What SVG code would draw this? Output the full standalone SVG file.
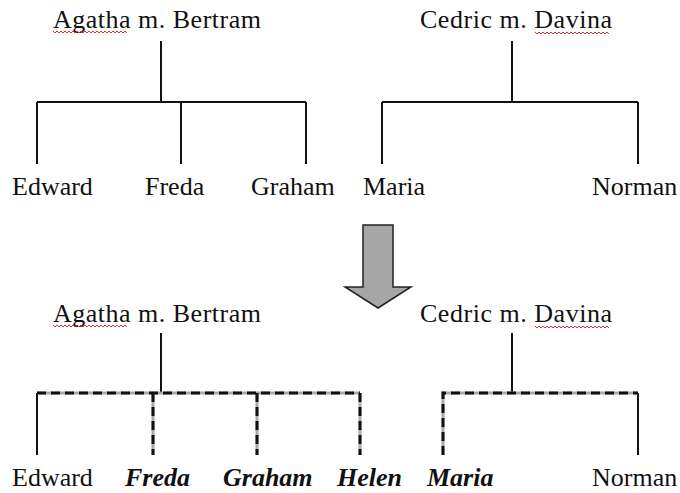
<svg xmlns="http://www.w3.org/2000/svg" width="680" height="493" viewBox="0 0 680 493">
<style>
text{font-family:"Liberation Serif","Times New Roman",serif;font-size:26px;fill:#111}
.bi{font-weight:bold;font-style:italic}
.ln{stroke:#111;stroke-width:2;fill:none}
.dg{stroke:#aaa;stroke-width:3;fill:none}
.dk{stroke:#111;stroke-width:3;fill:none;stroke-dasharray:9 5}
.sq{stroke:#e03030;stroke-width:1;fill:none}
</style>
<rect width="680" height="493" fill="#fff"/>
<g id="connectors">
<path class="ln" d="M161 41V102M37 102H306M37 102V164M181 102V164M306 102V164"/>
<path class="ln" d="M512 41V102M382 102H638M382 102V164M638 102V164"/>
<path class="ln" d="M161 333V393M37 393V455"/>
<path class="dg" d="M37 393H360M153 393V455M257 393V455M360 393V455"/>
<path class="dk" d="M37 393H360"/>
<path class="dk" d="M153 393V455M257 393V455M360 393V455"/>
<path class="ln" d="M512 333V393M638 393V455"/>
<path class="dg" d="M443 455V393H638"/>
<path class="dk" d="M443 455V393H638"/>
</g>
<g id="arrow">
<polygon points="363,225 393,225 393,287 411,287 378,308 345,287 363,287" fill="#a6a6a6" stroke="#222" stroke-width="1.5"/>
</g>
<g id="top-ab"><text x="53" y="28" textLength="208">Agatha m. Bertram</text>
<path class="sq" d="M53 31l2 2 2-2 2 2 2-2 2 2 2-2 2 2 2-2 2 2 2-2 2 2 2-2 2 2 2-2 2 2 2-2 2 2 2-2 2 2 2-2 2 2 2-2 2 2 2-2 2 2 2-2 2 2 2-2 2 2 2-2 2 2 2-2 2 2 2-2 2 2 2-2 2 2"/></g>
<g id="top-cd"><text x="420" y="28" textLength="192">Cedric m. Davina</text>
<path class="sq" d="M535 32l2 2 2-2 2 2 2-2 2 2 2-2 2 2 2-2 2 2 2-2 2 2 2-2 2 2 2-2 2 2 2-2 2 2 2-2 2 2 2-2 2 2 2-2 2 2 2-2 2 2 2-2 2 2 2-2 2 2 2-2 2 2 2-2 2 2 2-2 2 2 2-2 2 2"/></g>
<g id="top-edward"><text x="12" y="195">Edward</text></g>
<g id="top-freda"><text x="145" y="195">Freda</text></g>
<g id="top-graham"><text x="251" y="195">Graham</text></g>
<g id="top-maria"><text x="363" y="195">Maria</text></g>
<g id="top-norman"><text x="592" y="195">Norman</text></g>
<g id="bot-ab"><text x="53" y="322" textLength="208">Agatha m. Bertram</text>
<path class="sq" d="M53 325l2 2 2-2 2 2 2-2 2 2 2-2 2 2 2-2 2 2 2-2 2 2 2-2 2 2 2-2 2 2 2-2 2 2 2-2 2 2 2-2 2 2 2-2 2 2 2-2 2 2 2-2 2 2 2-2 2 2 2-2 2 2 2-2 2 2 2-2 2 2 2-2 2 2"/></g>
<g id="bot-cd"><text x="420" y="322" textLength="192">Cedric m. Davina</text>
<path class="sq" d="M535 326l2 2 2-2 2 2 2-2 2 2 2-2 2 2 2-2 2 2 2-2 2 2 2-2 2 2 2-2 2 2 2-2 2 2 2-2 2 2 2-2 2 2 2-2 2 2 2-2 2 2 2-2 2 2 2-2 2 2 2-2 2 2 2-2 2 2 2-2 2 2 2-2 2 2"/></g>
<g id="bot-edward"><text x="12" y="486">Edward</text></g>
<g id="bot-freda"><text class="bi" x="125" y="486">Freda</text></g>
<g id="bot-graham"><text class="bi" x="223" y="486">Graham</text></g>
<g id="bot-helen"><text class="bi" x="337" y="486">Helen</text></g>
<g id="bot-maria"><text class="bi" x="427" y="486">Maria</text></g>
<g id="bot-norman"><text x="592" y="486">Norman</text></g>
</svg>
